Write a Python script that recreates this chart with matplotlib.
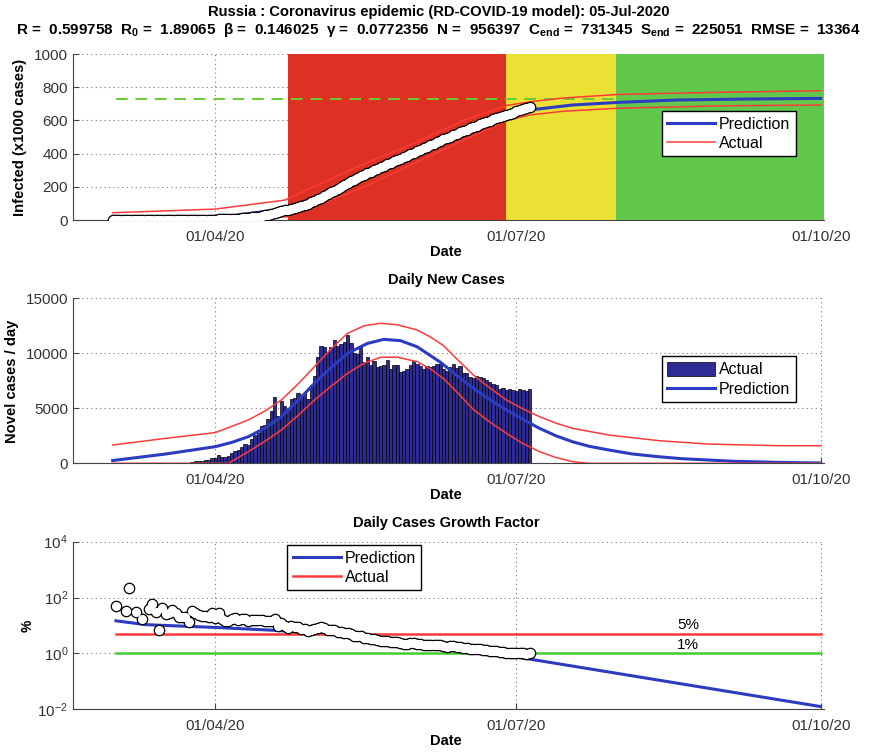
import numpy as np
import pandas as pd
import matplotlib
matplotlib.use('Agg')
import matplotlib.pyplot as plt
import matplotlib.dates as mdates
from matplotlib import font_manager
from matplotlib.ticker import NullLocator

names = {f.name for f in font_manager.fontManager.ttflist}
fam = 'Liberation Sans Narrow' if 'Liberation Sans Narrow' in names else 'Liberation Sans'
plt.rcParams['font.family'] = [fam, 'DejaVu Sans']
plt.rcParams['mathtext.fontset'] = 'custom'
plt.rcParams['mathtext.rm'] = fam
plt.rcParams['mathtext.bf'] = fam + ':bold'
plt.rcParams['mathtext.it'] = fam + ':italic'

# ---------------- data ----------------
first_day = '2020-03-01'
cases_before = 2          # cumulative cases before the first day

new_march = [0, 1, 0, 0, 1, 9, 0, 4, 0, 3, 0, 8, 17, 14, 4, 27, 24, 33, 52, 54,
             53, 61, 71, 57, 163, 182, 196, 228, 270, 302, 501]
new_april = [440, 771, 601, 582, 658, 954, 1154, 1175, 1459, 1786, 1667, 2186, 2558,
             2774, 3388, 3448, 4070, 4785, 6060, 4268, 5642, 5236, 4774, 5849, 5966,
             6361, 6198, 6411, 5841, 7099]
new_may = [7933, 9623, 10633, 10581, 10102, 10559, 11231, 10699, 10817, 11012, 11656,
           10899, 10028, 9974, 10598, 9200, 9709, 8926, 9263, 8764, 8849, 8894, 9434,
           8599, 8946, 8915, 8338, 8371, 8572, 8952, 9268]
new_june = [9035, 8863, 8536, 8831, 8726, 8855, 8984, 8985, 8595, 8404, 8779, 8987,
            8706, 8835, 8246, 8248, 7843, 7790, 7972, 7889, 7728, 7600, 7425, 7176,
            7113, 6800, 6852, 6693, 6719, 6693]
new_july = [6556, 6760, 6632, 6611, 6736]

c_end = 731345

# model curves
top_pred_d = ['2020-03-01', '2020-04-01', '2020-04-23', '2020-05-15', '2020-06-01', '2020-06-15',
              '2020-07-01', '2020-07-05', '2020-07-18', '2020-08-01', '2020-08-18', '2020-09-08', '2020-10-01']
top_pred_v = [3, 12, 70, 260, 410, 530, 640, 663, 693, 709, 723, 729, 733]
top_up_d = ['2020-03-01', '2020-04-01', '2020-04-22', '2020-05-15', '2020-06-01', '2020-06-15',
            '2020-06-28', '2020-07-05', '2020-07-15', '2020-08-01', '2020-09-01', '2020-10-01']
top_up_v = [44, 66, 120, 330, 470, 600, 690, 712, 735, 757, 770, 779]
top_lo_d = ['2020-03-01', '2020-04-01', '2020-04-23', '2020-05-15', '2020-06-01', '2020-06-15',
            '2020-06-28', '2020-07-05', '2020-07-15', '2020-08-01', '2020-09-01', '2020-10-01']
top_lo_v = [0, 0, 20, 190, 350, 480, 598, 633, 655, 674, 688, 693]

day_pred_d = ['2020-03-01', '2020-03-17', '2020-04-01', '2020-04-06', '2020-04-11', '2020-04-16',
              '2020-04-21', '2020-04-26', '2020-05-01', '2020-05-06', '2020-05-11', '2020-05-17',
              '2020-05-22', '2020-05-27', '2020-06-01', '2020-06-04', '2020-06-08', '2020-06-13',
              '2020-06-18', '2020-06-23', '2020-06-28', '2020-07-03', '2020-07-08', '2020-07-13',
              '2020-07-18', '2020-07-23', '2020-07-29', '2020-08-05', '2020-08-13', '2020-08-20',
              '2020-08-28', '2020-09-05', '2020-09-18', '2020-10-01']
day_pred_v = [250, 845, 1510, 1900, 2420, 3200, 4240, 5700, 7270, 8700, 10000, 10900,
              11270, 11150, 10600, 10000, 9200, 8000, 6820, 5800, 4850, 4000, 3180, 2500,
              1960, 1550, 1210, 850, 600, 420, 300, 180, 90, 30]
day_up_d = ['2020-03-01', '2020-03-17', '2020-04-01', '2020-04-11', '2020-04-16', '2020-04-21',
            '2020-04-26', '2020-05-01', '2020-05-06', '2020-05-11', '2020-05-16', '2020-05-21',
            '2020-05-26', '2020-06-01', '2020-06-05', '2020-06-09', '2020-06-13', '2020-06-18',
            '2020-06-23', '2020-06-28', '2020-07-03', '2020-07-08', '2020-07-13', '2020-07-18',
            '2020-07-29', '2020-08-13', '2020-08-28', '2020-09-18', '2020-10-01']
day_up_v = [1660, 2270, 2790, 3940, 4750, 5760, 7200, 8790, 10400, 11820, 12500, 12730,
            12600, 12120, 11500, 10700, 9500, 8030, 6850, 5760, 4950, 4240, 3650, 3180,
            2570, 2060, 1750, 1600, 1600]
day_lo_d = ['2020-03-01', '2020-04-05', '2020-04-11', '2020-04-16', '2020-04-21', '2020-04-26',
            '2020-05-01', '2020-05-06', '2020-05-11', '2020-05-16', '2020-05-21', '2020-05-26',
            '2020-06-01', '2020-06-05', '2020-06-09', '2020-06-13', '2020-06-18', '2020-06-23',
            '2020-06-28', '2020-07-03', '2020-07-08', '2020-07-13', '2020-07-18', '2020-07-23',
            '2020-10-01']
day_lo_v = [0, 0, 1060, 2000, 3030, 4350, 5760, 7000, 8180, 9100, 9640, 9650, 9240,
            8600, 7700, 6500, 4900, 3750, 2730, 1800, 1060, 520, 150, 0, 0]

gf_pred_d = ['2020-03-02', '2020-03-11', '2020-04-01', '2020-04-19', '2020-05-05', '2020-05-20',
             '2020-06-05', '2020-06-20', '2020-07-01', '2020-10-01']
gf_pred_v = [14.7, 10.7, 8.5, 6.7, 5.0, 3.2, 1.9, 1.15, 0.75, 0.0125]

zones = [('2020-04-23', '2020-06-28', '#dc3123'),
         ('2020-06-28', '2020-07-31', '#ebe134'),
         ('2020-07-31', '2020-10-02', '#62c84c')]

# ---------------- derived ----------------
new_cases = np.array(new_march + new_april + new_may + new_june + new_july)
dates = pd.date_range(first_day, periods=len(new_cases), freq='D')
total = cases_before + np.cumsum(new_cases)
growth = 100.0 * new_cases[1:] / total[:-1]
gdates = dates[1:]
keep = growth > 0

blue = '#2b3cc0'
red = '#ff3a3a'

fig = plt.figure(figsize=(8.77, 7.52), dpi=100)
ax1 = fig.add_axes([0.0832, 0.7074, 0.8563, 0.2207])
ax2 = fig.add_axes([0.0832, 0.3839, 0.8563, 0.2194])
ax3 = fig.add_axes([0.0832, 0.0568, 0.8563, 0.2229])

xticks = pd.to_datetime(['2020-04-01', '2020-07-01', '2020-10-01'])
x_lo, x_hi = pd.Timestamp('2020-02-18'), pd.Timestamp('2020-10-02')


def style(ax):
    ax.set_xlim(x_lo, x_hi)
    ax.set_xticks(xticks)
    ax.xaxis.set_major_formatter(mdates.DateFormatter('%d/%m/%y'))
    for s in ['top', 'right']:
        ax.spines[s].set_visible(False)
    for s in ['left', 'bottom']:
        ax.spines[s].set_color('#444444')
    ax.tick_params(direction='in', length=4, color='#444444', labelcolor='#333333', labelsize=11)
    ax.tick_params(axis='x', pad=7)
    ax.grid(True, linestyle=(0, (1, 3)), color='#777777', linewidth=0.8)
    ax.set_axisbelow(True)
    ax.set_xlabel('Date', fontweight='bold', fontsize=10.5, va='center')
    ax.xaxis.set_label_coords(0.497, -0.19)


def tube(ax, x, y):
    # white circles with a black rim, drawn as one body like the original markers
    ax.plot(x, y, 'o', color='black', ms=8.4, mew=0, zorder=4)
    ax.plot(x, y, 'o', color='white', ms=6.6, mew=0, zorder=5)


leg_kw = dict(fontsize=11.5, frameon=True, fancybox=False, framealpha=1, edgecolor='black',
              handlelength=3.0, borderpad=0.35, labelspacing=0.25, handletextpad=0.25,
              borderaxespad=0, loc='upper left')

# ---- top: infected ----
style(ax1)
for a, b, c in zones:
    ax1.axvspan(pd.Timestamp(a), pd.Timestamp(b), color=c, lw=0, zorder=1)
ax1.plot([dates[1], x_hi], [c_end / 1000] * 2, color='#66cc33', lw=1.4, dashes=(6, 4), zorder=2)
lp, = ax1.plot(pd.to_datetime(top_pred_d), top_pred_v, color=blue, lw=2.2, zorder=3)
la, = ax1.plot(pd.to_datetime(top_up_d), top_up_v, color=red, lw=1.1, zorder=3)
ax1.plot(pd.to_datetime(top_lo_d), top_lo_v, color=red, lw=1.1, zorder=3)
tube(ax1, dates, total / 1000)
ax1.set_ylim(0, 1000)
ax1.set_yticks([0, 200, 400, 600, 800, 1000])
ax1.set_ylabel('Infected (x1000 cases)', fontweight='bold', fontsize=10.6, va='center')
ax1.yaxis.set_label_coords(-0.0706, 0.5)
ax1.legend([lp, la], ['Prediction', 'Actual'], bbox_to_anchor=(0.784, 0.657), **leg_kw)

# ---- middle: daily new cases ----
style(ax2)
bars = ax2.bar(dates, new_cases, width=1.0, color='#2e2b94', edgecolor='black', lw=0.5, zorder=2)
lp2, = ax2.plot(pd.to_datetime(day_pred_d), day_pred_v, color=blue, lw=2.2, zorder=3)
ax2.plot(pd.to_datetime(day_up_d), day_up_v, color=red, lw=1.1, zorder=3)
ax2.plot(pd.to_datetime(day_lo_d), day_lo_v, color=red, lw=1.1, zorder=3)
ax2.set_ylim(0, 15000)
ax2.set_yticks([0, 5000, 10000, 15000])
ax2.set_ylabel('Novel cases / day', fontweight='bold', fontsize=10.6, va='center')
ax2.yaxis.set_label_coords(-0.0812, 0.5)
ax2.text(0.497, 1.11, 'Daily New Cases', transform=ax2.transAxes, ha='center', va='center',
         fontweight='bold', fontsize=10.5)
ax2.legend([bars, lp2], ['Actual', 'Prediction'], bbox_to_anchor=(0.784, 0.650),
           handleheight=1.0, **leg_kw)

# ---- bottom: growth factor ----
style(ax3)
ax3.set_yscale('log')
ax3.set_ylim(1e-2, 1e4)
ax3.set_yticks([1e-2, 1, 1e2, 1e4])
ax3.yaxis.set_minor_locator(NullLocator())
lp3, = ax3.plot(pd.to_datetime(gf_pred_d), gf_pred_v, color=blue, lw=2.2, zorder=3)
la3, = ax3.plot([dates[1], pd.Timestamp('2020-10-01')], [5, 5], color=red, lw=1.8, zorder=3)
ax3.plot([dates[1], pd.Timestamp('2020-10-01')], [1, 1], color='#44cc33', lw=1.8, zorder=3)
tube(ax3, gdates[keep], growth[keep])
ax3.text(pd.Timestamp('2020-08-22'), 10.5, '5%', ha='center', va='center', fontsize=11)
ax3.text(pd.Timestamp('2020-08-22'), 2.0, '1%', ha='center', va='center', fontsize=11)
ax3.set_ylabel('%', fontweight='bold', fontsize=10, va='center')
ax3.yaxis.set_label_coords(-0.061, 0.5)
ax3.text(0.497, 1.112, 'Daily Cases Growth Factor', transform=ax3.transAxes, ha='center',
         va='center', fontweight='bold', fontsize=10.5)
ax3.legend([lp3, la3], ['Prediction', 'Actual'], bbox_to_anchor=(0.285, 0.98), **leg_kw)

# ---- header ----
fig.text(0.5, 1 - 12 / 752, 'Russia : Coronavirus epidemic (RD-COVID-19 model): 05-Jul-2020',
         ha='center', va='center', fontweight='bold', fontsize=10.6)
fig.text(0.5, 1 - 30 / 752,
         r'R =  0.599758  R$_\mathbf{0}$ =  1.89065  β =  0.146025  γ =  0.0772356  '
         r'N =  956397  C$_\mathbf{end}$ =  731345  S$_\mathbf{end}$ =  225051  RMSE =  13364',
         ha='center', va='center', fontweight='bold', fontsize=10.95)

fig.savefig('out.png', dpi=100)
